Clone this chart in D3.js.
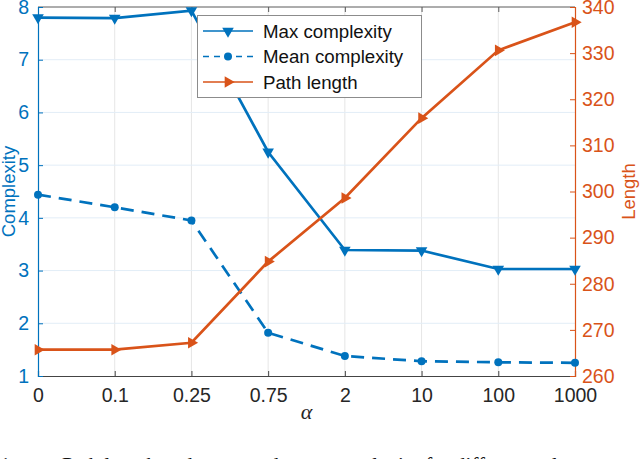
<!DOCTYPE html>
<html>
<head>
<meta charset="utf-8">
<script src="https://cdn.jsdelivr.net/npm/d3@7"></script>
<style>
  body { margin: 0; background: #fff; }
  svg { display: block; font-family: "Liberation Sans", Arial, sans-serif; }
</style>
</head>
<body>
<svg width="640" height="459"></svg>
<script>
var WIDTH = 640;
var HEIGHT = 459;

var alphas = ['0', '0.1', '0.25', '0.75', '2', '10', '100', '1000'];
var maxComplexity = [7.80, 7.79, 7.93, 5.25, 3.39, 3.38, 3.03, 3.03];
var meanComplexity = [4.44, 4.20, 3.95, 1.82, 1.38, 1.28, 1.26, 1.25];
var pathLength = [265.7, 265.7, 267.2, 284.8, 298.6, 315.9, 330.6, 336.7];

var leftTicks = [1, 2, 3, 4, 5, 6, 7, 8];
var rightTicks = [260, 270, 280, 290, 300, 310, 320, 330, 340];

var BLUE = '#0072BD';
var ORANGE = '#D95319';
var TICK_FONT = 19.5;

// plot box (don't call these top/left: window.top is read-only)
var plotL = 38, plotR = 575, plotT = 7, plotB = 376;

var svg = d3.select('svg');

var x = d3.scalePoint().domain(alphas).range([plotL, plotR]);
var yL = d3.scaleLinear().domain([1, 8]).range([plotB, plotT]);
var yR = d3.scaleLinear().domain([260, 340]).range([plotB, plotT]);

// grid
svg.append('g').selectAll('line')
    .data(alphas.slice(1, -1))
    .enter().append('line')
    .attr('x1', function(d) { return x(d); })
    .attr('x2', function(d) { return x(d); })
    .attr('y1', plotT).attr('y2', plotB)
    .attr('stroke', '#e6e6e6').attr('stroke-width', 1);
svg.append('g').selectAll('line')
    .data(leftTicks.slice(1, -1))
    .enter().append('line')
    .attr('x1', plotL).attr('x2', plotR)
    .attr('y1', function(d) { return yL(d); })
    .attr('y2', function(d) { return yL(d); })
    .attr('stroke', '#e2edf7').attr('stroke-width', 1);

// box top
svg.append('line').attr('x1', plotL).attr('x2', plotR).attr('y1', plotT).attr('y2', plotT)
    .attr('stroke', '#5a5a5a').attr('stroke-width', 1);

// x axis (inward ticks)
var gx = svg.append('g').attr('transform', 'translate(0,' + plotB + ')')
    .call(d3.axisBottom(x).tickSize(-5).tickPadding(12));
gx.select('.domain').attr('stroke', '#444').attr('stroke-width', 1.2);
gx.selectAll('.tick line').attr('stroke', '#444');
gx.selectAll('text').attr('font-size', TICK_FONT).attr('fill', '#262626')
    .attr('font-family', '"Liberation Sans", Arial, sans-serif');
svg.append('g').attr('transform', 'translate(0,' + plotT + ')')
    .call(d3.axisTop(x).tickSize(-5).tickFormat(''))
    .call(function(g) { g.select('.domain').remove(); g.selectAll('line').attr('stroke', '#5a5a5a'); });

// left axis
var gl = svg.append('g').attr('transform', 'translate(' + plotL + ',0)')
    .call(d3.axisLeft(yL).tickValues(leftTicks).tickSize(-5).tickPadding(9).tickFormat(d3.format('d')));
gl.select('.domain').attr('stroke', BLUE).attr('stroke-width', 1.2);
gl.selectAll('.tick line').attr('stroke', BLUE);
gl.selectAll('text').attr('font-size', TICK_FONT).attr('fill', BLUE)
    .attr('font-family', '"Liberation Sans", Arial, sans-serif');

// right axis
var gr = svg.append('g').attr('transform', 'translate(' + plotR + ',0)')
    .call(d3.axisRight(yR).tickValues(rightTicks).tickSize(-5).tickPadding(7));
gr.select('.domain').attr('stroke', ORANGE).attr('stroke-width', 1.2);
gr.selectAll('.tick line').attr('stroke', ORANGE);
gr.selectAll('text').attr('font-size', TICK_FONT).attr('fill', ORANGE)
    .attr('font-family', '"Liberation Sans", Arial, sans-serif');

// axis labels
svg.append('text').attr('transform', 'translate(15,' + ((plotT + plotB) / 2) + ') rotate(-90)')
    .attr('text-anchor', 'middle').attr('font-size', 18.5).attr('fill', BLUE).text('Complexity');
svg.append('text').attr('transform', 'translate(635,' + ((plotT + plotB) / 2) + ') rotate(-90)')
    .attr('text-anchor', 'middle').attr('font-size', 18.5).attr('fill', ORANGE).text('Length');
svg.append('text').attr('x', (plotL + plotR) / 2).attr('y', 419)
    .attr('text-anchor', 'middle').attr('font-size', 22).attr('font-style', 'italic')
    .attr('font-family', '"Liberation Serif", "DejaVu Serif", serif').attr('fill', '#262626').text('α');

// caption, cut off by the bottom edge
svg.append('text').attr('x', 0).attr('y', 472)
    .attr('font-size', 21).attr('font-family', '"Liberation Serif", serif').attr('fill', '#111')
    .text('1.');
svg.append('text').attr('x', 62).attr('y', 472)
    .attr('font-size', 21).attr('font-family', '"Liberation Serif", serif').attr('fill', '#111')
    .text('Path length and mean and max complexity for different values');

// markers
var tri = d3.symbol().type(d3.symbolTriangle).size(58);
function marker(g, kind, color) {
    if (kind === 'circle') {
        g.append('circle').attr('r', 4).attr('fill', color);
    } else {
        g.append('path').attr('d', tri()).attr('fill', color)
            .attr('transform', kind === 'down' ? 'rotate(180)' : 'rotate(90)');
    }
}

var series = [
    { name: 'Max complexity', values: maxComplexity, y: yL, color: BLUE, dash: null, mark: 'down' },
    { name: 'Mean complexity', values: meanComplexity, y: yL, color: BLUE, dash: '13,8', mark: 'circle' },
    { name: 'Path length', values: pathLength, y: yR, color: ORANGE, dash: null, mark: 'right' }
];

series.forEach(function(s) {
    var line = d3.line()
        .x(function(d, i) { return x(alphas[i]); })
        .y(function(d) { return s.y(d); });
    svg.append('path').datum(s.values)
        .attr('d', line)
        .attr('fill', 'none')
        .attr('stroke', s.color)
        .attr('stroke-width', 2.7)
        .attr('stroke-dasharray', s.dash);
    svg.append('g').selectAll('g')
        .data(s.values)
        .enter().append('g')
        .attr('transform', function(d, i) { return 'translate(' + x(alphas[i]) + ',' + s.y(d) + ')'; })
        .each(function() { marker(d3.select(this), s.mark, s.color); });
});

// legend
var legend = svg.append('g').attr('transform', 'translate(197,15)');
legend.append('rect').attr('x', 0.5).attr('y', 0.5).attr('width', 224).attr('height', 82)
    .attr('fill', '#fff').attr('stroke', '#8c8c8c').attr('stroke-width', 1);
series.forEach(function(s, i) {
    var yy = 16 + i * 25.5;
    legend.append('line').attr('x1', 6).attr('x2', 56).attr('y1', yy).attr('y2', yy)
        .attr('stroke', s.color).attr('stroke-width', 1.6).attr('stroke-dasharray', s.dash ? '6,5' : null);
    var m = legend.append('g').attr('transform', 'translate(31,' + yy + ')');
    marker(m, s.mark, s.color);
    legend.append('text').attr('x', 66).attr('y', yy + 6.5).attr('font-size', 18.7)
        .attr('fill', '#111').text(s.name);
});
</script>
</body>
</html>
